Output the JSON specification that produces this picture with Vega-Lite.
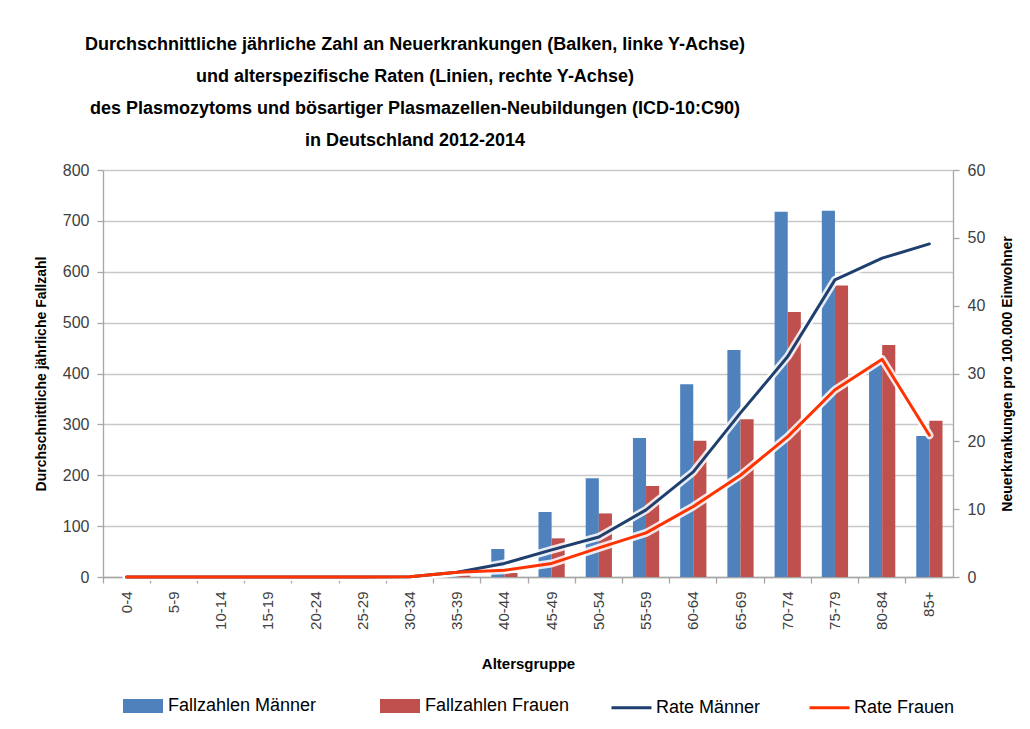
{
  "$schema": "https://vega.github.io/schema/vega-lite/v6.json",
  "width": 850,
  "height": 407,
  "autosize": {"type": "none"},
  "padding": {"left": 103, "top": 170, "right": 77, "bottom": 152},
  "background": "white",
  "title": {
    "text": [
      "Durchschnittliche jährliche Zahl an Neuerkrankungen (Balken, linke Y-Achse)",
      "und alterspezifische Raten (Linien, rechte Y-Achse)",
      "des Plasmozytoms und bösartiger  Plasmazellen-Neubildungen (ICD-10:C90)",
      "in Deutschland 2012-2014"
    ],
    "anchor": "middle",
    "frame": "group",
    "dx": -113,
    "offset": 12,
    "font": "Liberation Sans",
    "fontSize": 18,
    "fontWeight": "bold",
    "lineHeight": 32,
    "color": "#000000"
  },
  "data": {
    "values": [
      {"Altersgruppe": "0-4", "Fallzahlen Männer": 0, "Fallzahlen Frauen": 0, "Rate Männer": 0, "Rate Frauen": 0},
      {"Altersgruppe": "5-9", "Fallzahlen Männer": 0, "Fallzahlen Frauen": 0, "Rate Männer": 0, "Rate Frauen": 0},
      {"Altersgruppe": "10-14", "Fallzahlen Männer": 0, "Fallzahlen Frauen": 0, "Rate Männer": 0, "Rate Frauen": 0},
      {"Altersgruppe": "15-19", "Fallzahlen Männer": 0, "Fallzahlen Frauen": 0, "Rate Männer": 0, "Rate Frauen": 0},
      {"Altersgruppe": "20-24", "Fallzahlen Männer": 0, "Fallzahlen Frauen": 0, "Rate Männer": 0, "Rate Frauen": 0},
      {"Altersgruppe": "25-29", "Fallzahlen Männer": 0, "Fallzahlen Frauen": 0, "Rate Männer": 0, "Rate Frauen": 0},
      {"Altersgruppe": "30-34", "Fallzahlen Männer": 1, "Fallzahlen Frauen": 1, "Rate Männer": 0.05, "Rate Frauen": 0.05},
      {"Altersgruppe": "35-39", "Fallzahlen Männer": 5, "Fallzahlen Frauen": 4, "Rate Männer": 0.7, "Rate Frauen": 0.7},
      {"Altersgruppe": "40-44", "Fallzahlen Männer": 55, "Fallzahlen Frauen": 8, "Rate Männer": 2.0, "Rate Frauen": 1.0},
      {"Altersgruppe": "45-49", "Fallzahlen Männer": 128, "Fallzahlen Frauen": 76, "Rate Männer": 4.0, "Rate Frauen": 2.0},
      {"Altersgruppe": "50-54", "Fallzahlen Männer": 194, "Fallzahlen Frauen": 125, "Rate Männer": 5.9, "Rate Frauen": 4.3},
      {"Altersgruppe": "55-59", "Fallzahlen Männer": 273, "Fallzahlen Frauen": 179, "Rate Männer": 9.9, "Rate Frauen": 6.5},
      {"Altersgruppe": "60-64", "Fallzahlen Männer": 379, "Fallzahlen Frauen": 268, "Rate Männer": 15.5, "Rate Frauen": 10.4},
      {"Altersgruppe": "65-69", "Fallzahlen Männer": 446, "Fallzahlen Frauen": 310, "Rate Männer": 24.2, "Rate Frauen": 15.0},
      {"Altersgruppe": "70-74", "Fallzahlen Männer": 718, "Fallzahlen Frauen": 521, "Rate Männer": 32.5, "Rate Frauen": 20.7},
      {"Altersgruppe": "75-79", "Fallzahlen Männer": 720, "Fallzahlen Frauen": 573, "Rate Männer": 43.8, "Rate Frauen": 27.6},
      {"Altersgruppe": "80-84", "Fallzahlen Männer": 420, "Fallzahlen Frauen": 456, "Rate Männer": 47.0, "Rate Frauen": 32.1},
      {"Altersgruppe": "85+", "Fallzahlen Männer": 277, "Fallzahlen Frauen": 307, "Rate Männer": 49.1, "Rate Frauen": 20.9}
    ]
  },
  "encoding": {
    "x": {
      "field": "Altersgruppe",
      "type": "nominal",
      "sort": null,
      "scale": {"paddingInner": 0, "paddingOuter": 0},
      "axis": {
        "title": "Altersgruppe",
        "titleFont": "Liberation Sans",
        "titleFontSize": 15,
        "titleFontWeight": "bold",
        "titleColor": "#000000",
        "titlePadding": 27,
        "labelAngle": 270,
        "labelFont": "Liberation Sans",
        "labelFontSize": 15,
        "labelColor": "#404040",
        "labelPadding": 8,
        "bandPosition": 0,
        "tickSize": 6,
        "tickColor": "#a6a6a6",
        "domainColor": "#a6a6a6",
        "grid": false
      }
    }
  },
  "layer": [
    {
      "transform": [{"fold": ["Fallzahlen Männer", "Fallzahlen Frauen"], "as": ["Serie", "Wert"]}],
      "mark": {"type": "bar"},
      "encoding": {
        "xOffset": {"field": "Serie", "type": "nominal", "sort": ["Fallzahlen Männer", "Fallzahlen Frauen"], "scale": {"paddingInner": 0, "paddingOuter": 0.8}},
        "y": {
          "field": "Wert",
          "type": "quantitative",
          "scale": {"domain": [0, 800]},
          "axis": {
            "title": "Durchschnittliche jährliche Fallzahl",
            "titleFont": "Liberation Sans",
            "titleFontSize": 14,
            "titleFontWeight": "bold",
            "titleColor": "#000000",
            "titlePadding": 14,
            "values": [0, 100, 200, 300, 400, 500, 600, 700, 800],
            "labelFont": "Liberation Sans",
            "labelFontSize": 16,
            "labelColor": "#404040",
            "labelPadding": 8,
            "tickSize": 6,
            "tickColor": "#a6a6a6",
            "domainColor": "#a6a6a6",
            "grid": true,
            "gridColor": "#c8c8c8",
            "gridWidth": 1.3
          }
        },
        "fill": {
          "field": "Serie",
          "type": "nominal",
          "scale": {
            "domain": ["Fallzahlen Männer", "Fallzahlen Frauen"],
            "range": ["#4f81bd", "#c0504d"]
          },
          "legend": {
            "orient": "none",
            "legendX": 20,
            "legendY": 516,
            "title": null,
            "direction": "horizontal",
            "symbolType": "M-1,-0.35H1V0.35H-1Z",
            "symbolSize": 1600,
            "symbolStrokeWidth": 0,
            "labelFont": "Liberation Sans",
            "labelFontSize": 18,
            "labelColor": "#000000",
            "labelOffset": 5,
            "columnPadding": 63
          }
        }
      }
    },
    {
      "transform": [{"fold": ["Rate Männer", "Rate Frauen"], "as": ["Serie", "Rate"]}],
      "encoding": {
        "y": {
          "field": "Rate",
          "type": "quantitative",
          "scale": {"domain": [0, 60]},
          "axis": {
            "orient": "right",
            "title": "Neuerkrankungen pro 100.000 Einwohner",
            "titleAngle": 270,
            "titleFont": "Liberation Sans",
            "titleFontSize": 14,
            "titleFontWeight": "bold",
            "titleColor": "#000000",
            "titlePadding": 30,
            "values": [0, 10, 20, 30, 40, 50, 60],
            "labelFont": "Liberation Sans",
            "labelFontSize": 16,
            "labelColor": "#404040",
            "labelPadding": 8,
            "tickSize": 6,
            "tickColor": "#a6a6a6",
            "domainColor": "#a6a6a6",
            "grid": false
          }
        }
      },
      "layer": [
        {
          "mark": {"type": "line", "stroke": "white", "strokeWidth": 8, "opacity": 0.85, "strokeJoin": "round", "strokeCap": "round"},
          "encoding": {"detail": {"field": "Serie", "type": "nominal"}}
        },
        {
          "mark": {"type": "line", "strokeWidth": 3, "strokeJoin": "round", "strokeCap": "round"},
          "encoding": {
            "stroke": {
              "field": "Serie",
              "type": "nominal",
              "scale": {
                "domain": ["Rate Männer", "Rate Frauen"],
                "range": ["#1f3f6e", "#ff3300"]
              },
              "legend": {
                "orient": "none",
                "legendX": 507,
                "legendY": 516,
                "title": null,
                "direction": "horizontal",
                "symbolType": "stroke",
                "symbolSize": 1600,
                "symbolStrokeWidth": 3,
                "labelFont": "Liberation Sans",
                "labelFontSize": 18,
                "labelColor": "#000000",
                "labelOffset": 3,
                "columnPadding": 42
              }
            }
          }
        }
      ]
    }
  ],
  "resolve": {"scale": {"y": "independent"}},
  "config": {
    "view": {"stroke": null},
    "axis": {"domainWidth": 1.3, "tickWidth": 1.3}
  }
}
